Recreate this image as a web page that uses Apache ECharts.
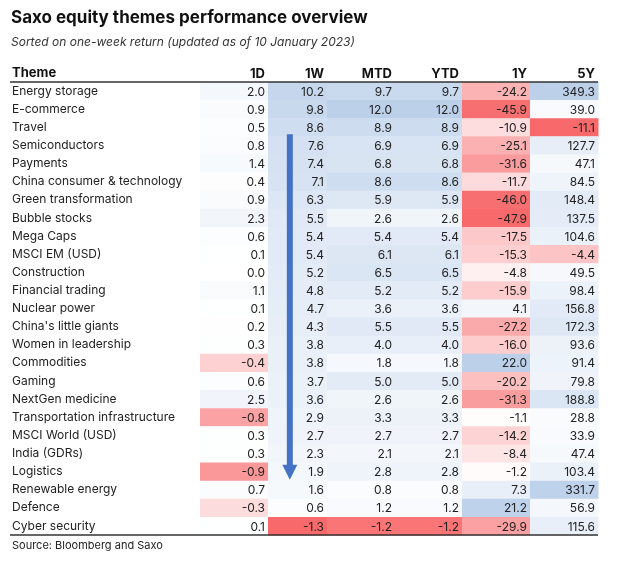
<!DOCTYPE html>
<html><head><meta charset="utf-8">
<script src="https://cdn.jsdelivr.net/npm/echarts/dist/echarts.min.js"></script>
<style>html,body{margin:0;padding:0;background:#fff}#c{width:624px;height:563px}</style>
</head><body><div id="c"></div>
<script>
// ---- data ----
const themes = ['Energy storage','E-commerce','Travel','Semiconductors','Payments',
  'China consumer & technology','Green transformation','Bubble stocks','Mega Caps','MSCI EM (USD)',
  'Construction','Financial trading','Nuclear power',"China's little giants",'Women in leadership',
  'Commodities','Gaming','NextGen medicine','Transportation infrastructure','MSCI World (USD)',
  'India (GDRs)','Logistics','Renewable energy','Defence','Cyber security'];
const columns = ['1D','1W','MTD','YTD','1Y','5Y'];
const d1  = [2.0,0.9,0.5,0.8,1.4,0.4,0.9,2.3,0.6,0.1,0.0,1.1,0.1,0.2,0.3,-0.4,0.6,2.5,-0.8,0.3,0.3,-0.9,0.7,-0.3,0.1];
const w1  = [10.2,9.8,8.6,7.6,7.4,7.1,6.3,5.5,5.4,5.4,5.2,4.8,4.7,4.3,3.8,3.8,3.7,3.6,2.9,2.7,2.3,1.9,1.6,0.6,-1.3];
const mtd = [9.7,12.0,8.9,6.9,6.8,8.6,5.9,2.6,5.4,6.1,6.5,5.2,3.6,5.5,4.0,1.8,5.0,2.6,3.3,2.7,2.1,2.8,0.8,1.2,-1.2];
const ytd = [9.7,12.0,8.9,6.9,6.8,8.6,5.9,2.6,5.4,6.1,6.5,5.2,3.6,5.5,4.0,1.8,5.0,2.6,3.3,2.7,2.1,2.8,0.8,1.2,-1.2];
const y1  = [-24.2,-45.9,-10.9,-25.1,-31.6,-11.7,-46.0,-47.9,-17.5,-15.3,-4.8,-15.9,4.1,-27.2,-16.0,22.0,-20.2,-31.3,-1.1,-14.2,-8.4,-1.2,7.3,21.2,-29.9];
const y5  = [349.3,39.0,-11.1,127.7,47.1,84.5,148.4,137.5,104.6,-4.4,49.5,98.4,156.8,172.3,93.6,91.4,79.8,188.8,28.8,33.9,47.4,103.4,331.7,56.9,115.6];

// ---- layout / style ----
const FONT = 'Inter, Roboto, sans-serif';
const colEdges = [0, 68, 127, 195, 262, 330, 398];   // column boundaries on hidden x value axis
const colValues = [d1, w1, mtd, ytd, y1, y5];
const scaleGroups = [[0,1,2,3],[4],[5]];
const groupOf = [0,0,0,0,1,2];
const ranges = scaleGroups.map(g => {
  const all = g.flatMap(i => colValues[i]);
  return [Math.min(...all), Math.max(...all)];
});
const RED = [248,105,107], BLUE = [188,208,234], WHITE = [255,255,255];
function mix(a, b, t) {
  t = Math.max(0, Math.min(1, t));
  return 'rgb(' + a.map((x, i) => Math.round(x + (b[i] - x) * t)).join(',') + ')';
}
function cellColor(v, c) {
  const [mn, mx] = ranges[groupOf[c]];
  if (v < 0) return mix(WHITE, RED, v / mn);
  return mix(WHITE, BLUE, mx > 0 ? v / mx : 0);
}
const cells = [];
colValues.forEach((arr, c) => arr.forEach((v, r) => cells.push([c, r, v])));

const chart = echarts.init(document.getElementById('c'), null, {renderer: 'canvas'});
chart.setOption({
  animation: false,
  backgroundColor: '#fff',
  title: [
    {text: 'Saxo equity themes performance overview', left: 11, top: 9, padding: 0,
     textStyle: {fontFamily: FONT, fontSize: 17, fontWeight: 'bold', color: '#111'}},
    {text: 'Sorted on one-week return (updated as of 10 January 2023)', left: 11, top: 36, padding: 0,
     textStyle: {fontFamily: FONT, fontSize: 12, fontStyle: 'italic', fontWeight: 'normal', color: '#333'}},
    {text: 'Theme', left: 12, top: 67, padding: 0,
     textStyle: {fontFamily: FONT, fontSize: 13, fontWeight: 'bold', color: '#111'}},
    {text: 'Source: Bloomberg and Saxo', left: 12, top: 540, padding: 0,
     textStyle: {fontFamily: FONT, fontSize: 11, fontWeight: 'normal', color: '#222'}}
  ],
  grid: {left: 200, right: 26, top: 82, bottom: 28},
  xAxis: {type: 'value', min: 0, max: 398, show: false},
  yAxis: {
    type: 'category', data: themes, inverse: true,
    axisLine: {show: false}, axisTick: {show: false}, splitLine: {show: false},
    axisLabel: {align: 'left', margin: 188, fontFamily: FONT, fontSize: 12, color: '#222', padding: [2, 0, 0, 0]}
  },
  series: [
    {
      type: 'custom', data: cells, encode: {x: 0, y: 1},
      renderItem(params, api) {
        const c = api.value(0), r = api.value(1), v = api.value(2);
        const p0 = api.coord([colEdges[c], r]);
        const p1 = api.coord([colEdges[c + 1], r]);
        const h = api.size([0, 1])[1];
        return {type: 'group', children: [
          {type: 'rect', shape: {x: p0[0], y: p0[1] - h / 2, width: p1[0] - p0[0] + 0.5, height: h + 0.5},
           style: {fill: cellColor(v, c)}},
          {type: 'text', z2: 10, style: {x: p1[0] - 3, y: p0[1] + 1, text: v.toFixed(1), align: 'right',
           verticalAlign: 'middle', fill: '#222', font: '12px ' + FONT}}
        ]};
      }
    },
    {
      type: 'custom', data: columns.map((n, i) => [i, 0]), encode: {x: 0, y: 1},
      renderItem(params, api) {
        const c = api.value(0);
        const p1 = api.coord([colEdges[c + 1], 0]);
        return {type: 'text', style: {x: p1[0] - 3, y: params.coordSys.y - 8, text: columns[c],
          align: 'right', verticalAlign: 'middle', fill: '#111', font: 'bold 13px ' + FONT}};
      }
    }
  ]
});

// ---- rules and the sorting arrow, anchored to the grid ----
const top0 = chart.convertToPixel({yAxisIndex: 0}, 0);
const band = chart.convertToPixel({yAxisIndex: 0}, 1) - top0;
const gridTop = top0 - band / 2;
const gridBottom = chart.convertToPixel({yAxisIndex: 0}, themes.length - 1) + band / 2;
const xRight = chart.convertToPixel({xAxisIndex: 0}, colEdges[6]);
const arrowX = chart.convertToPixel({xAxisIndex: 0}, colEdges[1] + 0.37 * (colEdges[2] - colEdges[1]));
const arrowTop = chart.convertToPixel({yAxisIndex: 0}, 3) - band / 2 - 2;
const arrowTip = chart.convertToPixel({yAxisIndex: 0}, 21) + band / 2 - 1;
chart.setOption({
  graphic: [
    {type: 'line', shape: {x1: 10, y1: gridTop, x2: xRight, y2: gridTop}, style: {stroke: '#333', lineWidth: 1.5}, z: 100},
    {type: 'line', shape: {x1: 10, y1: gridBottom, x2: xRight, y2: gridBottom}, style: {stroke: '#333', lineWidth: 1.5}, z: 100},
    {type: 'rect', shape: {x: arrowX - 3, y: arrowTop, width: 6, height: arrowTip - arrowTop - 14},
     style: {fill: '#4472C4'}, z: 100},
    {type: 'polygon', shape: {points: [[arrowX - 7.5, arrowTip - 15], [arrowX + 7.5, arrowTip - 15], [arrowX, arrowTip]]},
     style: {fill: '#4472C4'}, z: 100}
  ]
});
</script>
</body></html>
